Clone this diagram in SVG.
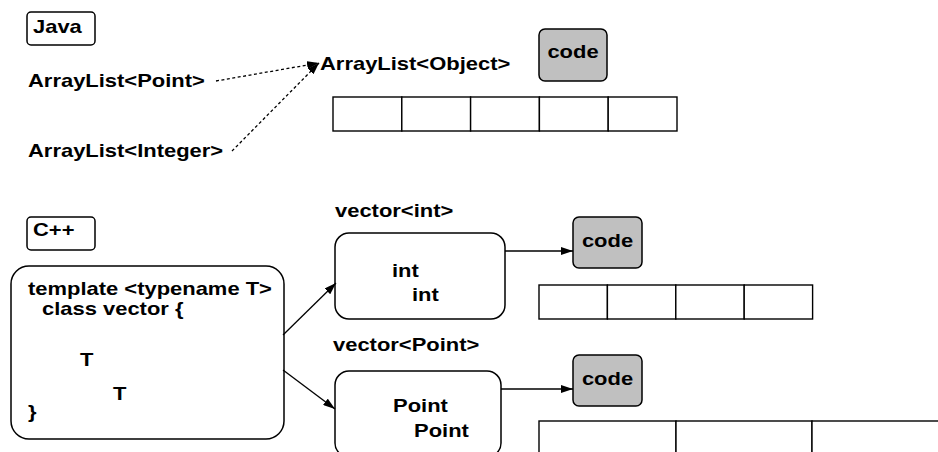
<svg xmlns="http://www.w3.org/2000/svg" width="938" height="452" viewBox="0 0 938 452">
  <style>
    text { font-family: "Liberation Sans", Arial, Helvetica, sans-serif; font-weight: bold; font-size: 18px; fill: #000; }
    .box { fill: #fff; stroke: #000; stroke-width: 1.5; }
    .code { fill: #c0c0c0; stroke: #000; stroke-width: 1.5; }
    .cell { fill: #fff; stroke: #000; stroke-width: 1.4; }
    .link { fill: none; stroke: #000; stroke-width: 1.3; }
    .dot { fill: none; stroke: #000; stroke-width: 1.3; stroke-dasharray: 3 2.5; }
  </style>
  <defs>
    <marker id="head" viewBox="0 0 12 8" refX="12" refY="4" markerWidth="12" markerHeight="8" markerUnits="userSpaceOnUse" orient="auto">
      <path d="M0,0 L12,4 L0,8 Z" fill="#000"/>
    </marker>
  </defs>

  <!-- Java side -->
  <g id="java-tag">
    <rect class="box" x="27" y="12" width="68" height="33" rx="4"/>
    <text transform="translate(33,33) scale(1.22,1)">Java</text>
  </g>
  <g id="arraylist-point">
    <text transform="translate(28,87) scale(1.22,1)">ArrayList&lt;Point&gt;</text>
  </g>
  <g id="arraylist-integer">
    <text transform="translate(28,157) scale(1.22,1)">ArrayList&lt;Integer&gt;</text>
  </g>
  <g id="arraylist-object">
    <text transform="translate(320,70) scale(1.22,1)">ArrayList&lt;Object&gt;</text>
  </g>
  <g id="java-code">
    <rect class="code" x="539" y="29" width="68" height="52" rx="6"/>
    <text text-anchor="middle" transform="translate(573,58) scale(1.22,1)">code</text>
  </g>
  <g id="java-array">
    <rect class="cell" x="333" y="97" width="68.8" height="34"/>
    <rect class="cell" x="401.8" y="97" width="68.8" height="34"/>
    <rect class="cell" x="470.6" y="97" width="68.8" height="34"/>
    <rect class="cell" x="539.4" y="97" width="68.8" height="34"/>
    <rect class="cell" x="608.2" y="97" width="68.8" height="34"/>
  </g>

  <!-- C++ side -->
  <g id="cpp-tag">
    <rect class="box" x="27" y="217" width="68" height="33" rx="4"/>
    <text transform="translate(33,236) scale(1.22,1)">C++</text>
  </g>
  <g id="template">
    <rect class="box" x="11" y="266" width="273" height="173" rx="18"/>
    <text transform="translate(28,295) scale(1.22,1)">template &lt;typename T&gt;</text>
    <text transform="translate(42,315) scale(1.22,1)">class vector {</text>
    <text transform="translate(80,366) scale(1.22,1)">T</text>
    <text transform="translate(113,400) scale(1.22,1)">T</text>
    <text transform="translate(28,418) scale(1.22,1)">}</text>
  </g>
  <g id="vector-int">
    <text transform="translate(335,217) scale(1.22,1)">vector&lt;int&gt;</text>
    <rect class="box" x="335" y="233" width="170" height="86" rx="14"/>
    <text transform="translate(392,277) scale(1.22,1)">int</text>
    <text transform="translate(412,301) scale(1.22,1)">int</text>
  </g>
  <g id="int-code">
    <rect class="code" x="573" y="217" width="69" height="51" rx="6"/>
    <text text-anchor="middle" transform="translate(607.5,247) scale(1.22,1)">code</text>
  </g>
  <g id="int-array">
    <rect class="cell" x="539" y="285" width="68.4" height="34"/>
    <rect class="cell" x="607.4" y="285" width="68.4" height="34"/>
    <rect class="cell" x="675.8" y="285" width="68.4" height="34"/>
    <rect class="cell" x="744.2" y="285" width="68.4" height="34"/>
  </g>
  <g id="vector-point">
    <text transform="translate(333,351) scale(1.22,1)">vector&lt;Point&gt;</text>
    <rect class="box" x="335" y="371" width="166" height="86" rx="14"/>
    <text transform="translate(393,412) scale(1.22,1)">Point</text>
    <text transform="translate(414,437) scale(1.22,1)">Point</text>
  </g>
  <g id="point-code">
    <rect class="code" x="573" y="355" width="69" height="51" rx="6"/>
    <text text-anchor="middle" transform="translate(607.5,385) scale(1.22,1)">code</text>
  </g>
  <g id="point-array">
    <rect class="cell" x="539" y="421" width="137" height="60"/>
    <rect class="cell" x="676" y="421" width="136" height="60"/>
    <rect class="cell" x="812" y="421" width="140" height="60"/>
  </g>

  <!-- connectors -->
  <g id="connectors">
    <line class="dot" x1="216" y1="81" x2="319" y2="63" marker-end="url(#head)"/>
    <line class="dot" x1="232" y1="151" x2="319" y2="63" marker-end="url(#head)"/>
    <line class="link" x1="283" y1="335" x2="336" y2="283" marker-end="url(#head)"/>
    <line class="link" x1="283" y1="370" x2="335" y2="409" marker-end="url(#head)"/>
    <line class="link" x1="505" y1="251" x2="573" y2="251" marker-end="url(#head)"/>
    <line class="link" x1="501" y1="389" x2="573" y2="389" marker-end="url(#head)"/>
  </g>
</svg>
